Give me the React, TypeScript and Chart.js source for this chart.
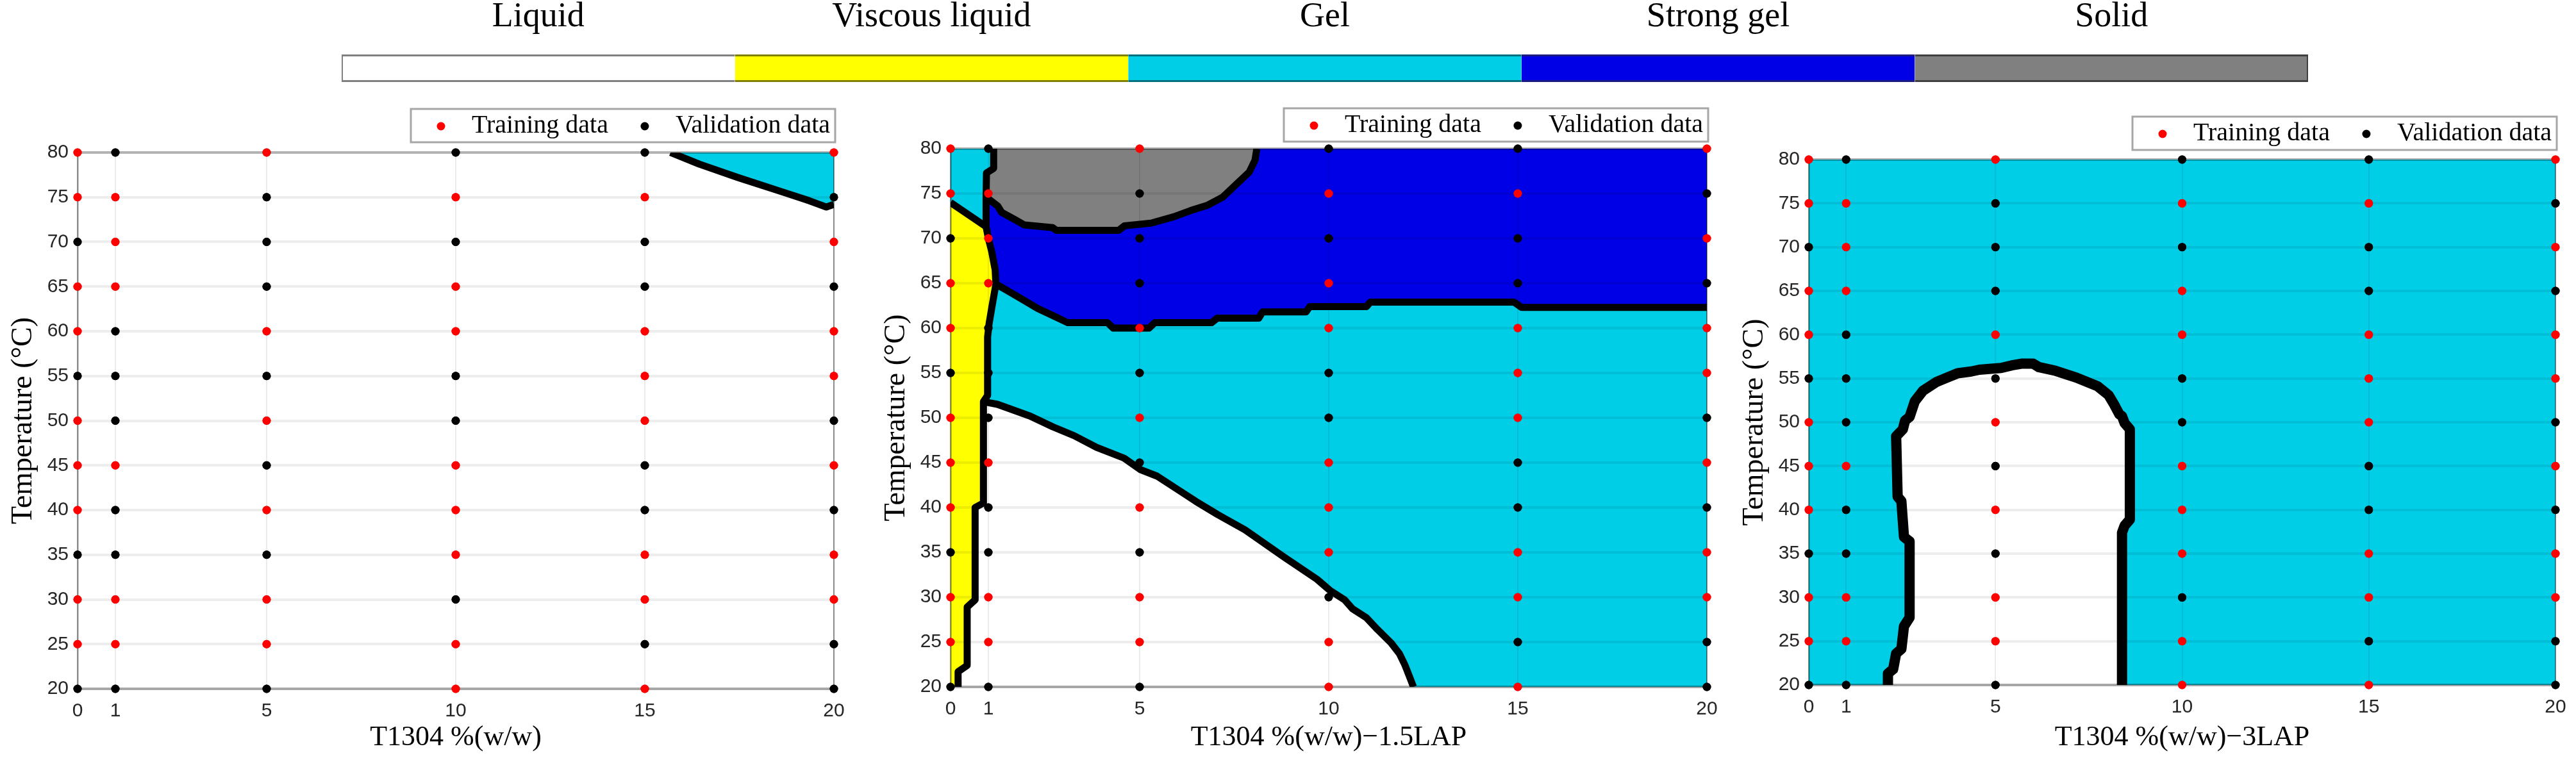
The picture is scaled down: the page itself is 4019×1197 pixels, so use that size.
import React, { useEffect, useRef } from 'react';
import { Chart, registerables } from 'chart.js';

Chart.register(...registerables);

const SANS = '"Liberation Sans", Arial, sans-serif';
const SERIF = '"Liberation Serif", "Times New Roman", serif';

// ---------------- data ----------------
const concentrations = [0, 1, 5, 10, 15, 20];
const temperatures = [80, 75, 70, 65, 60, 55, 50, 45, 40, 35, 30, 25, 20];
// T = training sample, V = validation sample (one row per temperature, one letter per concentration)
const sampleSplit = [
  'TVTVVT', // 80
  'TTVTTV', // 75
  'VTVVVT', // 70
  'TTVTVV', // 65
  'TVTTTT', // 60
  'VVVVTT', // 55
  'TVTVTV', // 50
  'TTVTVT', // 45
  'TVTTVV', // 40
  'VVVTTT', // 35
  'TTTVTT', // 30
  'TTTTVV', // 25
  'VVVTTV', // 20
];

const phaseLabels = ['Liquid', 'Viscous liquid', 'Gel', 'Strong gel', 'Solid'];
const phaseColors = ['#ffffff', '#ffff00', '#00cde6', '#0000e6', '#808080'];
const phaseEdgeColors = ['#808080', '#808000', '#00707e', '#1c1c80', '#404040'];

const xAxisTitles = ['T1304 %(w/w)', 'T1304 %(w/w)\u22121.5LAP', 'T1304 %(w/w)\u22123LAP'];
const yAxisTitle = 'Temperature (\u00b0C)';
const seriesLabels = ['Training data', 'Validation data'];

type XY = [number, number];

// Panel 1 : gel / liquid border (top right corner)
const p1GelEdge: XY[] = [[15.68, 80], [16.44, 78.7], [17.46, 77.2], [18.63, 75.6], [19.35, 74.6], [19.8, 73.9], [20, 74.2]];
const p1GelRegion: XY[] = [[15.68, 80], [16.44, 78.7], [17.46, 77.2], [18.63, 75.6], [19.35, 74.6], [19.8, 73.9], [20, 74.2], [20, 80]];

// Panel 2 : borders
const p2LeftLine: XY[] = [[0.2, 20], [0.2, 21.7], [0.44, 22.4], [0.44, 28.9], [0.65, 29.7], [0.65, 40], [0.87, 40.5], [0.87, 51.8], [0.98, 52.5], [0.98, 59], [1.02, 60.5], [1.1, 62.5], [1.2, 64.9], [1.18, 66.5], [1.09, 68.5], [1.0, 70], [0.94, 71.3], [0.94, 74.5], [0.95, 77.3], [1.14, 77.8], [1.14, 80]];
const p2ViscousTop: XY[] = [[0, 74], [0.94, 71.3]];
const p2StrongGelLower: XY[] = [[1.2, 64.9], [1.45, 64.3], [1.9, 63.2], [2.3, 62.2], [2.75, 61.3], [3.1, 60.6], [4.15, 60.6], [4.3, 60.0], [5.25, 60.0], [5.4, 60.6], [6.9, 60.6], [7.05, 61.1], [8.15, 61.1], [8.25, 61.8], [9.4, 61.8], [9.5, 62.4], [11.0, 62.4], [11.1, 62.9], [14.9, 62.9], [15.1, 62.3], [20, 62.3]];
const p2SolidEdge: XY[] = [[0.94, 74.6], [1.25, 73.6], [1.35, 72.9], [1.7, 72.1], [1.95, 71.5], [2.7, 71.2], [2.8, 70.9], [4.45, 70.9], [4.6, 71.4], [5.3, 71.7], [5.9, 72.4], [6.35, 73.1], [6.8, 73.7], [7.2, 74.6], [7.5, 75.8], [7.9, 77.4], [8.05, 78.7], [8.1, 80]];
const p2LiquidEdge: XY[] = [[0.87, 51.8], [1.24, 51.5], [2.1, 50.2], [2.7, 49.0], [3.27, 48.0], [3.86, 46.7], [4.59, 45.5], [5.03, 44.2], [5.46, 43.5], [6.19, 41.5], [6.48, 40.7], [7.07, 39.2], [7.79, 37.5], [8.81, 34.5], [9.69, 32.0], [10.05, 30.7], [10.42, 29.7], [10.63, 28.7], [11.0, 27.7], [11.29, 26.4], [11.65, 24.9], [11.87, 23.7], [12.02, 22.4], [12.16, 20.9], [12.24, 20]];

// Panel 2 : regions
const p2StrongGelRegion: XY[] = [[20, 80], [20, 62.3], [15.1, 62.3], [14.9, 62.9], [11.1, 62.9], [11.0, 62.4], [9.5, 62.4], [9.4, 61.8], [8.25, 61.8], [8.15, 61.1], [7.05, 61.1], [6.9, 60.6], [5.4, 60.6], [5.25, 60.0], [4.3, 60.0], [4.15, 60.6], [3.1, 60.6], [2.75, 61.3], [2.3, 62.2], [1.9, 63.2], [1.45, 64.3], [1.2, 64.9], [1.18, 66.5], [1.09, 68.5], [1.0, 70], [0.94, 71.3], [0.94, 74.5], [0.95, 77.3], [1.14, 77.8], [1.14, 80]];
const p2SolidRegion: XY[] = [[1.14, 80], [1.14, 77.8], [0.95, 77.3], [0.94, 74.6], [1.25, 73.6], [1.35, 72.9], [1.7, 72.1], [1.95, 71.5], [2.7, 71.2], [2.8, 70.9], [4.45, 70.9], [4.6, 71.4], [5.3, 71.7], [5.9, 72.4], [6.35, 73.1], [6.8, 73.7], [7.2, 74.6], [7.5, 75.8], [7.9, 77.4], [8.05, 78.7], [8.1, 80]];
const p2LiquidRegion: XY[] = [[0.2, 20], [12.24, 20], [12.16, 20.9], [12.02, 22.4], [11.87, 23.7], [11.65, 24.9], [11.29, 26.4], [11.0, 27.7], [10.63, 28.7], [10.42, 29.7], [10.05, 30.7], [9.69, 32.0], [8.81, 34.5], [7.79, 37.5], [7.07, 39.2], [6.48, 40.7], [6.19, 41.5], [5.46, 43.5], [5.03, 44.2], [4.59, 45.5], [3.86, 46.7], [3.27, 48.0], [2.7, 49.0], [2.1, 50.2], [1.24, 51.5], [0.87, 51.8], [0.87, 40.5], [0.65, 40], [0.65, 29.7], [0.44, 28.9], [0.44, 22.4], [0.2, 21.7]];
const p2ViscousRegion: XY[] = [[0, 20], [0.2, 20], [0.2, 21.7], [0.44, 22.4], [0.44, 28.9], [0.65, 29.7], [0.65, 40], [0.87, 40.5], [0.87, 51.8], [0.98, 52.5], [0.98, 59], [1.02, 60.5], [1.1, 62.5], [1.2, 64.9], [1.18, 66.5], [1.09, 68.5], [1.0, 70], [0.94, 71.3], [0, 74]];

// Panel 3 : liquid arch inside the gel
const p3LiquidArch: XY[] = [[2.12, 20], [2.12, 21.3], [2.26, 21.8], [2.34, 23.6], [2.48, 24.1], [2.55, 26.7], [2.7, 27.7], [2.7, 36.4], [2.55, 36.9], [2.48, 41.0], [2.38, 41.5], [2.34, 48.4], [2.52, 49.2], [2.58, 50.2], [2.7, 50.6], [2.84, 52.4], [3.06, 53.6], [3.42, 54.6], [3.7, 55.1], [3.99, 55.6], [4.35, 55.8], [4.57, 56.0], [5.15, 56.2], [5.44, 56.5], [5.72, 56.7], [6.01, 56.7], [6.16, 56.3], [6.59, 55.9], [7.17, 55.1], [7.74, 54.1], [8.03, 53.1], [8.17, 52.1], [8.32, 50.9], [8.39, 50.7], [8.46, 49.9], [8.6, 49.2], [8.6, 38.9], [8.46, 38.2], [8.39, 37.4], [8.39, 20]];

const plotFrame: XY[] = [[0, 20], [20, 20], [20, 80], [0, 80]];

const panels = [
  { xTitle: xAxisTitles[0], basePhase: 0, regions: [{ phase: 2, points: p1GelRegion }], boundaries: [p1GelEdge] },
  {
    xTitle: xAxisTitles[1], basePhase: 2,
    regions: [
      { phase: 3, points: p2StrongGelRegion },
      { phase: 4, points: p2SolidRegion },
      { phase: 0, points: p2LiquidRegion },
      { phase: 1, points: p2ViscousRegion },
    ],
    boundaries: [p2LeftLine, p2ViscousTop, p2StrongGelLower, p2SolidEdge, p2LiquidEdge],
  },
  { xTitle: xAxisTitles[2], basePhase: 2, regions: [{ phase: 0, points: p3LiquidArch }], boundaries: [p3LiquidArch] },
];

// ---------------- layout / style ----------------
const PAGE_W = 4019;
const PAGE_H = 1197;
const CANVAS_TOP = 140;
const AXIS_W = 121;
const RIGHT_PAD = 30;
const panelLayout = [
  { L: 121, T: 238, R: 1301, B: 1075, legendTop: 170, lineWidth: 11 },
  { L: 1483, T: 232, R: 2663, B: 1072, legendTop: 169, lineWidth: 11 },
  { L: 2822, T: 249, R: 3987, B: 1069, legendTop: 182, lineWidth: 16 },
];
const TICK_COLOR = '#262626';
const GRID_Y = 'rgba(0,0,0,0.07)';
const GRID_X = 'rgba(0,0,0,0.08)';
const EDGE_TOP = 'rgba(0,0,0,0.3)';
const EDGE_RIGHT = 'rgba(0,0,0,0.45)';
const seriesColors = ['#ff0000', '#000000'];

const toXY = (pts: XY[]) => pts.map(([x, y]) => ({ x, y }));

function samplePoints(kind: string) {
  const out: { x: number; y: number }[] = [];
  temperatures.forEach((t, r) => {
    concentrations.forEach((c, k) => {
      if (sampleSplit[r][k] === kind) out.push({ x: c, y: t });
    });
  });
  return out;
}

const framedLegend = {
  id: 'framedLegend',
  afterDraw(chart: any, _args: any, opts: any) {
    const { ctx, chartArea } = chart;
    const items = chart.data.datasets.filter((d: any) => d.label);
    ctx.save();
    ctx.font = `40px ${SERIF}`;
    const widths = items.map((d: any) => ctx.measureText(d.label).width);
    const startPad = 47, dotToText = 48, gap = 57, endPad = 8, h = 52;
    let total = startPad + endPad;
    widths.forEach((w: number, i: number) => { total += dotToText + w + (i > 0 ? gap : 0); });
    const right = chartArea.right + 2;
    const left = right - total;
    const top = opts.top;
    ctx.fillStyle = '#ffffff';
    ctx.fillRect(left, top, total, h);
    ctx.strokeStyle = '#a6a6a6';
    ctx.lineWidth = 3;
    ctx.strokeRect(left, top, total, h);
    let x = left + startPad;
    const cy = top + h / 2;
    items.forEach((d: any, i: number) => {
      ctx.beginPath();
      ctx.fillStyle = d.pointBackgroundColor;
      ctx.arc(x, cy + 1, 6.5, 0, Math.PI * 2);
      ctx.fill();
      ctx.fillStyle = '#000000';
      ctx.textAlign = 'left';
      ctx.textBaseline = 'middle';
      ctx.fillText(d.label, x + dotToText, cy);
      x += dotToText + widths[i] + gap;
    });
    ctx.restore();
  },
};

const pointsOnTop = {
  id: 'pointsOnTop',
  afterDraw(chart: any) {
    chart.data.datasets.forEach((d: any, i: number) => {
      if (d.label) chart.getDatasetMeta(i).controller.draw();
    });
  },
};

function PhasePanel({ index }: { index: number }) {
  const ref = useRef<HTMLCanvasElement>(null);
  const spec = panels[index];
  const lay = panelLayout[index];
  const left = lay.L - AXIS_W;
  const width = lay.R - lay.L + AXIS_W + RIGHT_PAD;
  const height = PAGE_H - CANVAS_TOP;

  useEffect(() => {
    const datasets: any[] = [];
    [['T', 0], ['V', 1]].forEach(([kind, s]: any) => {
      datasets.push({
        label: seriesLabels[s],
        data: samplePoints(kind),
        showLine: false,
        pointRadius: 6.5,
        pointBorderWidth: 0,
        pointBackgroundColor: seriesColors[s],
        pointBorderColor: seriesColors[s],
        clip: false,
        order: 0,
      });
    });
    spec.boundaries.forEach((b) => {
      datasets.push({
        data: toXY(b),
        borderColor: '#000000',
        borderWidth: lay.lineWidth,
        borderJoinStyle: 'round',
        pointRadius: 0,
        fill: false,
        clip: 0,
        order: 1,
      });
    });
    datasets.push({
      data: toXY(plotFrame),
      backgroundColor: phaseColors[spec.basePhase],
      borderWidth: 0,
      pointRadius: 0,
      fill: 'shape',
      order: 60,
    });
    spec.regions.forEach((r, i) => {
      datasets.push({
        data: toXY(r.points),
        backgroundColor: phaseColors[r.phase],
        borderWidth: 0,
        pointRadius: 0,
        fill: 'shape',
        order: 50 - i,
      });
    });

    const chart = new Chart(ref.current as HTMLCanvasElement, {
      type: 'line',
      data: { datasets },
      options: {
        animation: false,
        responsive: false,
        devicePixelRatio: 1,
        events: [],
        layout: { padding: { left: 0, top: lay.T - CANVAS_TOP, right: RIGHT_PAD, bottom: 0 }, autoPadding: false },
        plugins: {
          legend: { display: false },
          tooltip: { enabled: false },
          framedLegend: { top: lay.legendTop - CANVAS_TOP },
        },
        scales: {
          x: {
            type: 'linear',
            min: 0,
            max: 20,
            afterBuildTicks: (s: any) => { s.ticks = concentrations.map((v) => ({ value: v })); },
            afterFit: (s: any) => { s.height = PAGE_H - lay.B; s.paddingLeft = 0; s.paddingRight = 0; },
            ticks: { autoSkip: false, maxRotation: 0, font: { family: SANS, size: 30 }, color: TICK_COLOR, padding: 17 },
            grid: {
              z: 1,
              drawTicks: false,
              color: (c: any) => (c.tick && c.tick.value === 20 ? EDGE_RIGHT : c.tick && c.tick.value === 0 ? 'rgba(0,0,0,0)' : GRID_X),
              lineWidth: 2,
            },
            border: { z: 1, color: 'rgba(0,0,0,0.35)', width: 4 },
            title: { display: true, text: spec.xTitle, font: { family: SERIF, size: 44 }, color: '#000000', padding: { top: 0, bottom: 19 } },
          },
          y: {
            type: 'linear',
            min: 20,
            max: 80,
            afterFit: (s: any) => { s.width = AXIS_W; s.paddingTop = 0; s.paddingBottom = 0; },
            ticks: { stepSize: 5, autoSkip: false, font: { family: SANS, size: 30 }, color: TICK_COLOR, padding: 14 },
            grid: {
              z: 1,
              drawTicks: false,
              color: (c: any) => (c.tick && c.tick.value === 80 ? EDGE_TOP : c.tick && c.tick.value === 20 ? 'rgba(0,0,0,0)' : GRID_Y),
              lineWidth: 4,
            },
            border: { z: 1, color: 'rgba(0,0,0,0.45)', width: 2.5 },
            title: { display: true, text: yAxisTitle, font: { family: SERIF, size: 46 }, color: '#000000', padding: { top: 9, bottom: 0 } },
          },
        },
      } as any,
      plugins: [framedLegend, pointsOnTop],
    });
    return () => chart.destroy();
  }, []);

  return (
    <canvas
      ref={ref}
      width={width}
      height={height}
      style={{ position: 'absolute', left, top: CANVAS_TOP, width, height }}
    />
  );
}

function PhaseColorbar() {
  const ref = useRef<HTMLCanvasElement>(null);
  const left = 433;
  const width = 3268;
  const height = 140;
  useEffect(() => {
    const last = phaseLabels.length - 1;
    const chart = new Chart(ref.current as HTMLCanvasElement, {
      type: 'bar',
      data: {
        labels: ['phase'],
        datasets: phaseLabels.map((name, i) => ({
          label: name,
          data: [1],
          backgroundColor: phaseColors[i],
          borderColor: phaseEdgeColors[i],
          borderWidth: { top: 3, bottom: 3, left: i === 0 ? 2 : 0, right: i === last ? 2 : 0 },
          borderSkipped: false,
          barPercentage: 1,
          categoryPercentage: 1,
          inflateAmount: 0,
        })),
      },
      options: {
        indexAxis: 'y',
        animation: false,
        responsive: false,
        devicePixelRatio: 1,
        events: [],
        layout: { padding: { left: 100, right: 100, top: 0, bottom: 12 }, autoPadding: false },
        plugins: { legend: { display: false }, tooltip: { enabled: false } },
        scales: {
          x: {
            type: 'linear',
            position: 'top',
            stacked: true,
            min: 0,
            max: phaseLabels.length,
            afterBuildTicks: (s: any) => { s.ticks = phaseLabels.map((_, i) => ({ value: i + 0.5 })); },
            afterFit: (s: any) => { s.height = 85; s.paddingLeft = 0; s.paddingRight = 0; },
            ticks: {
              autoSkip: false,
              maxRotation: 0,
              callback: (_v: any, i: number) => phaseLabels[i],
              font: { family: SERIF, size: 54 },
              color: '#000000',
              padding: 18,
            },
            grid: { display: false },
            border: { display: false },
          },
          y: { stacked: true, display: false },
        },
      } as any,
    });
    return () => chart.destroy();
  }, []);
  return <canvas ref={ref} width={width} height={height} style={{ position: 'absolute', left, top: 0, width, height }} />;
}

export default function App() {
  return (
    <div
      style={{
        position: 'fixed',
        left: 0,
        top: 0,
        width: PAGE_W,
        height: PAGE_H,
        background: '#ffffff',
        overflow: 'hidden',
      }}
    >
      <PhaseColorbar />
      <PhasePanel index={0} />
      <PhasePanel index={1} />
      <PhasePanel index={2} />
    </div>
  );
}
